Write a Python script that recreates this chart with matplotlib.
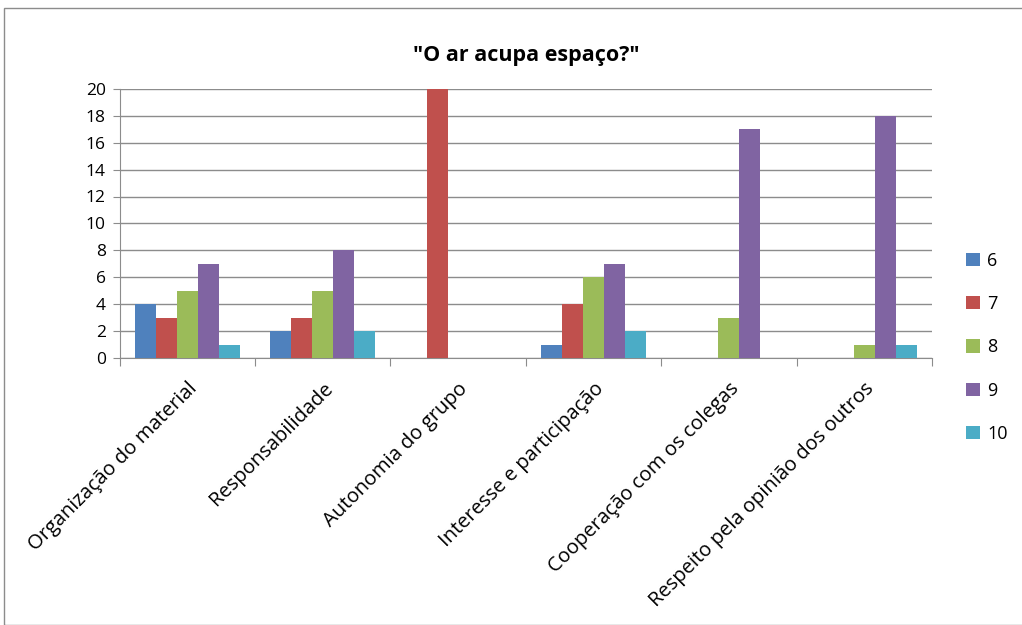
import numpy as np
from matplotlib import pyplot as plt
from matplotlib.patches import Rectangle

categorias = ["Organização do material", "Responsabilidade", "Autonomia do grupo",
              "Interesse e participação", "Cooperação com os colegas",
              "Respeito pela opinião dos outros"]
series = ["6", "7", "8", "9", "10"]
v6 = [4, 2, 0, 1, 0, 0]
v7 = [3, 3, 20, 4, 0, 0]
v8 = [5, 5, 0, 6, 3, 1]
v9 = [7, 8, 0, 7, 17, 18]
v10 = [1, 2, 0, 2, 0, 1]
valores = [v6, v7, v8, v9, v10]
cores = ["#4F81BD", "#C0504D", "#9BBB59", "#8064A2", "#4BACC6"]

plt.rcParams['font.family'] = ['Open Sans', 'DejaVu Sans']

fig = plt.figure(figsize=(10.22, 6.25), dpi=100)
ax = fig.add_axes([0.117, 0.427, 0.795, 0.431])

x = np.arange(len(categorias))
w = 0.155
for i in range(len(series)):
    ax.bar(x + (i - 2) * w, valores[i], w, color=cores[i], label=series[i], zorder=3)

ax.set_xlim(-0.5, len(categorias) - 0.5)
ax.set_ylim(0, 20)
ax.set_yticks(range(0, 21, 2))
ax.yaxis.grid(True, color="#8c8c8c", linewidth=1, zorder=0)
ax.tick_params(axis='y', length=5, color="#8c8c8c", labelsize=12.5, pad=5)

ax.set_xticks(np.arange(-0.5, len(categorias), 1))
ax.set_xticklabels([])
ax.tick_params(axis='x', length=6, color="#8c8c8c", direction='out')
ax.set_xticks(x, minor=True)
ax.set_xticklabels(categorias, minor=True, rotation=45, ha='right',
                   rotation_mode='anchor', fontsize=14.5)
ax.tick_params(axis='x', which='minor', length=0, pad=15)

for s in ["top", "right"]:
    ax.spines[s].set_visible(False)
ax.spines["left"].set_color("#8c8c8c")
ax.spines["bottom"].set_color("#8c8c8c")

ax.set_title('"O ar acupa espaço?"', fontsize=15.5, fontweight='bold', pad=20)

leg = ax.legend(loc='center left', bbox_to_anchor=(1.022, 0.04), frameon=False,
                fontsize=13, handlelength=0.75, handleheight=0.75,
                labelspacing=1.4, handletextpad=0.4)

fig.patches.append(Rectangle((0.004, 0.0), 1.2, 0.987, transform=fig.transFigure,
                             fill=False, edgecolor="#8c8c8c", linewidth=1))

fig.savefig("out.png", dpi=100)
